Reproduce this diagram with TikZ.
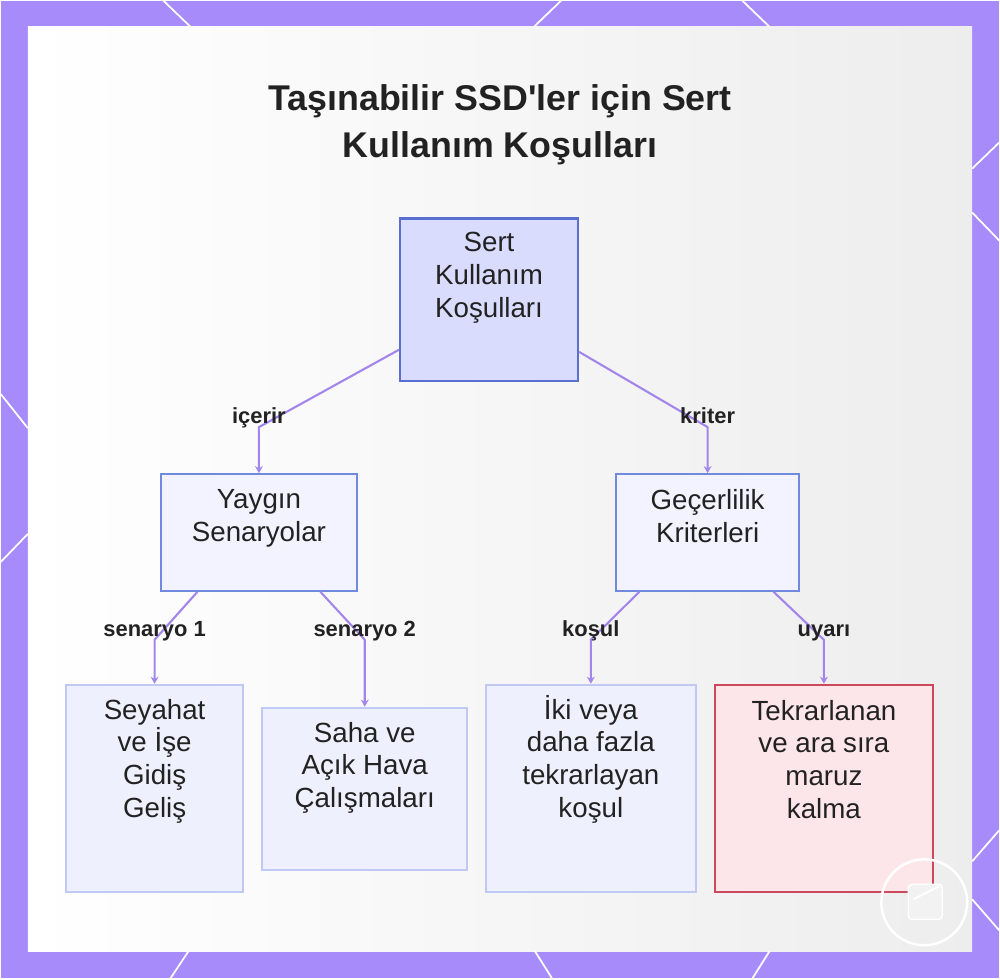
\documentclass[tikz,border=0pt]{standalone}
\usepackage{fontspec}
\setmainfont{Liberation Sans}
\usetikzlibrary{positioning,arrows.meta}

\definecolor{framepurple}{RGB}{167,139,250}
\definecolor{edgepurple}{RGB}{163,134,236}
\definecolor{rootfill}{RGB}{217,220,252}
\definecolor{rootline}{RGB}{90,111,208}
\definecolor{midfill}{RGB}{242,243,254}
\definecolor{midline}{RGB}{112,138,224}
\definecolor{leaffill}{RGB}{238,241,253}
\definecolor{leafline}{RGB}{192,201,244}
\definecolor{warnfill}{RGB}{253,230,233}
\definecolor{warnline}{RGB}{205,72,90}
\definecolor{ink}{RGB}{34,34,34}

\begin{document}
\begin{tikzpicture}[x=0.02cm, y=-0.02cm,
  box/.style={draw, line width=1.1pt, inner sep=0pt},
  rootbox/.style={box, fill=rootfill, draw=rootline, line width=1.4pt},
  midbox/.style={box, fill=midfill, draw=midline},
  leafbox/.style={box, fill=leaffill, draw=leafline},
  warnbox/.style={box, fill=warnfill, draw=warnline},
  boxtext/.style={align=center, inner sep=0pt, text=ink, font=\fontsize{15.8}{18.7}\selectfont},
  titletext/.style={align=center, inner sep=0pt, text=ink, anchor=north, font=\bfseries\fontsize{20.4}{27.2}\selectfont},
  lbl/.style={font=\bfseries\fontsize{12.5}{15}\selectfont, text=ink, inner sep=0pt, anchor=base, yshift=2pt},
  edge/.style={draw=edgepurple, line width=1.2pt, -{Stealth[length=4pt, width=4.5pt]}}]

% frame and panel
\fill[framepurple] (0,0) rectangle (1000,979);
\shade[left color=white, middle color=white, right color=black!7] (27,26) rectangle (973,952);
\draw[white, line width=1pt] (163,0) -- (190,26);
\draw[white, line width=1pt] (561,0) -- (534,26);
\draw[white, line width=1pt] (743,0) -- (770,26);
\draw[white, line width=1pt] (188,952) -- (170,979);
\draw[white, line width=1pt] (535,952) -- (552,979);
\draw[white, line width=1pt] (770,952) -- (753,979);
\draw[white, line width=1pt] (0,394) -- (27,428);
\draw[white, line width=1pt] (27,534) -- (0,562);
\draw[white, line width=1pt] (973,168) -- (1000,142);
\draw[white, line width=1pt] (973,212) -- (1000,240);
\draw[white, line width=1pt] (973,862) -- (1000,831);
\draw[white, line width=1pt] (973,900) -- (1000,931);

% title
\node[titletext] (title) at (500,83) {Taşınabilir SSD\textquotesingle ler için Sert\\Kullanım Koşulları};

% boxes
\node[rootbox, minimum width=3.56cm, minimum height=3.26cm] (root) at (489,299.5) {};
\node[midbox, minimum width=3.94cm, minimum height=2.34cm] (yaygin) at (258.5,532.5) {};
\node[midbox, minimum width=3.68cm, minimum height=2.34cm] (gecerlilik) at (708,532.5) {};
\node[leafbox, minimum width=3.56cm, minimum height=4.16cm] (seyahat) at (154,789) {};
\node[leafbox, minimum width=4.10cm, minimum height=3.26cm] (saha) at (364.5,789.5) {};
\node[leafbox, minimum width=4.20cm, minimum height=4.16cm] (iki) at (591,789) {};
\node[warnbox, minimum width=4.38cm, minimum height=4.16cm] (tekrar) at (824.5,789) {};

% box texts
\node[boxtext, below=0.3cm of root.north] (roottxt) {Sert\\Kullanım\\Koşulları};
\node[boxtext, below=0.32cm of yaygin.north] (yaygintxt) {Yaygın\\Senaryolar};
\node[boxtext, below=0.32cm of gecerlilik.north] (gecerliliktxt) {Geçerlilik\\Kriterleri};
\node[boxtext, below=0.3cm of seyahat.north] (seyahattxt) {Seyahat\\ve İşe\\Gidiş\\Geliş};
\node[boxtext, below=0.3cm of saha.north] (sahatxt) {Saha ve\\Açık Hava\\Çalışmaları};
\node[boxtext, below=0.22cm of iki.north] (ikitxt) {İki veya\\daha fazla\\tekrarlayan\\koşul};
\node[boxtext, below=0.32cm of tekrar.north] (tekrartxt) {Tekrarlanan\\ve ara sıra\\maruz\\kalma};

% connectors
\draw[edge] (root.209) -- (yaygin.north |- 0,427) node[lbl] (icerir) {içerir} -- (yaygin.north);
\draw[edge] (root.330) -- (gecerlilik.north |- 0,427) node[lbl] (kriter) {kriter} -- (gecerlilik.north);
\draw[edge] (yaygin.224) -- (seyahat.north |- 0,640) node[lbl] (senaryoA) {senaryo 1} -- (seyahat.north);
\draw[edge] (yaygin.316) -- (saha.north |- 0,640) node[lbl] (senaryoB) {senaryo 2} -- (saha.north);
\draw[edge] (gecerlilik.221) -- (iki.north |- 0,640) node[lbl] (kosul) {koşul} -- (iki.north);
\draw[edge] (gecerlilik.318) -- (tekrar.north |- 0,640) node[lbl] (uyari) {uyarı} -- (tekrar.north);

% corner badge
\draw[white, line width=1.4pt] (925,903) circle[radius=0.86cm];
\draw[white, fill=black!5, line width=0.8pt, rounded corners=2pt] (909,885) rectangle (943,920);
\draw[white, line width=1pt] (914,900) -- (940,887);
\end{tikzpicture}
\end{document}
